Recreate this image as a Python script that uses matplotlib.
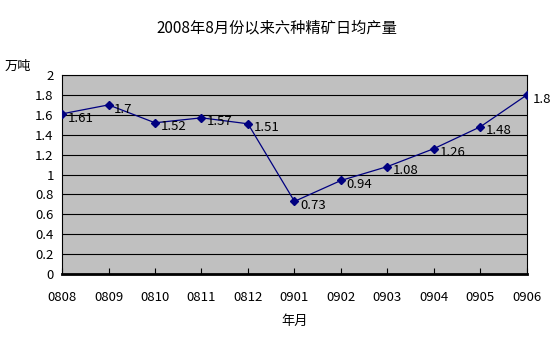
import numpy as np
import matplotlib.pyplot as plt

plt.rcParams['font.family'] = ['Noto Sans CJK SC', 'DejaVu Sans']

# 月份与日均产量（万吨）
months = ['0808', '0809', '0810', '0811', '0812', '0901',
          '0902', '0903', '0904', '0905', '0906']
output = [1.61, 1.7, 1.52, 1.57, 1.51, 0.73, 0.94, 1.08, 1.26, 1.48, 1.8]
yticks = [0, 0.2, 0.4, 0.6, 0.8, 1, 1.2, 1.4, 1.6, 1.8, 2]
ytick_labels = ['0', '0.2', '0.4', '0.6', '0.8', '1', '1.2', '1.4', '1.6', '1.8', '2']

fig = plt.figure(figsize=(5.54, 3.54), dpi=100)
ax = fig.add_axes([0.112, 0.226, 0.839, 0.562])
ax.set_facecolor('#C0C0C0')

x = np.arange(len(months))
ax.plot(x, output, color='#000080', lw=0.9, marker='D', ms=4.5, zorder=3)
for xi, v in zip(x, output):
    ax.annotate(f'{v:g}', (xi, v), xytext=(4, -3), textcoords='offset points',
                ha='left', va='center', fontsize=9.5, color='black',
                annotation_clip=False)

ax.set_xlim(0, len(months) - 1)
ax.set_ylim(0, 2)
ax.set_yticks(yticks)
ax.set_yticklabels(ytick_labels, fontsize=9.5)
ax.set_xticks(x)
ax.set_xticklabels(months, fontsize=9.5)
ax.yaxis.grid(True, color='black', lw=0.8)
ax.set_axisbelow(True)
ax.tick_params(axis='y', length=0, pad=6)
ax.tick_params(axis='x', direction='in', length=4, color='black', pad=12)
for s in ['left', 'right', 'top']:
    ax.spines[s].set_linewidth(0.8)
ax.spines['bottom'].set_linewidth(2)

ax.set_xlabel('年月', fontsize=9.5, labelpad=8)
fig.text(0.5, 0.922, '2008年8月份以来六种精矿日均产量', ha='center', va='center', fontsize=11)
fig.text(0.033, 0.813, '万吨', ha='center', va='center', fontsize=9.5)

plt.savefig('out.png', dpi=100)
